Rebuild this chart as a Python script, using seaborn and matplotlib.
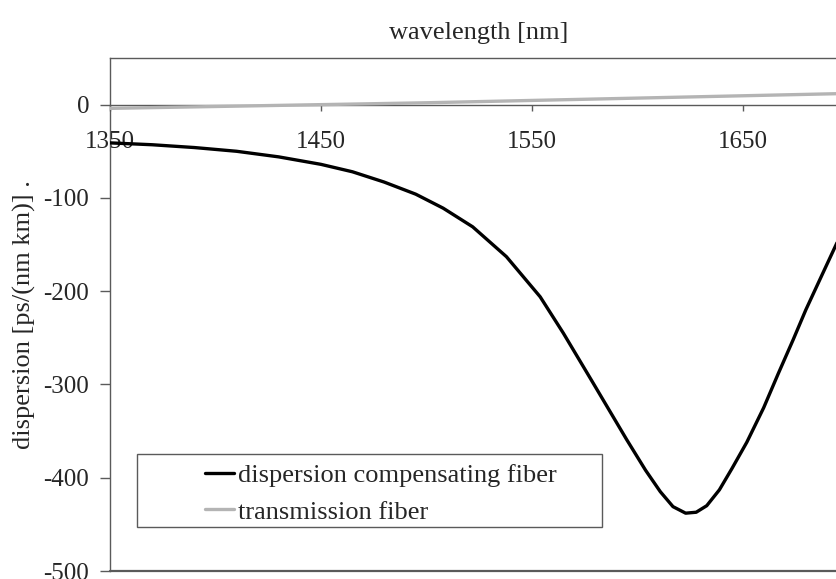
import numpy as np
import pandas as pd
import matplotlib
matplotlib.use("Agg")
import matplotlib.pyplot as plt
from matplotlib.patches import Rectangle
import seaborn as sns

# values
dcf_wavelength = [1350, 1370, 1390, 1410, 1430, 1450, 1465, 1480, 1495, 1508,
                  1522, 1538, 1554, 1565, 1579, 1595, 1604, 1611, 1617, 1623,
                  1628, 1633, 1639, 1645, 1652, 1660, 1667, 1674, 1680, 1688,
                  1695, 1700]
dcf_dispersion = [-41, -43, -46, -50, -56, -64, -72, -83, -96, -111,
                  -131, -163, -206, -245, -298, -359, -392, -415, -431, -438,
                  -437, -430, -413, -390, -362, -325, -288, -252, -220, -181,
                  -147, -124]

tf_wavelength = [1350, 1400, 1450, 1500, 1550, 1600, 1650, 1700]
tf_dispersion = [-4, -2, 0, 2, 4.5, 7, 9.5, 12]

series_names = ["dispersion compensating fiber", "transmission fiber"]
series_colors = ["#000000", "#b4b4b4"]
x_ticks = [1350, 1450, 1550, 1650]
y_ticks = [0, -100, -200, -300, -400, -500]
x_range = (1350, 1700)
y_range = (-500, 50)

df = pd.concat([
    pd.DataFrame({"wavelength": dcf_wavelength, "dispersion": dcf_dispersion,
                  "fiber": series_names[0]}),
    pd.DataFrame({"wavelength": tf_wavelength, "dispersion": tf_dispersion,
                  "fiber": series_names[1]}),
])

sns.set_theme(style="white")
plt.rcParams["font.family"] = ["Liberation Serif", "DejaVu Serif"]
plt.rcParams["axes.unicode_minus"] = False

fig = plt.figure(figsize=(8.37, 5.79), dpi=100)
ax = fig.add_axes([110 / 837, 1 - 571 / 579, 738 / 837, 513 / 579])

sns.lineplot(data=df, x="wavelength", y="dispersion", hue="fiber",
             hue_order=series_names, palette=series_colors, sort=False,
             linewidth=2.4, ax=ax, legend=False)
for ln, z in zip(ax.lines, [4, 3]):
    ln.set_zorder(z)
    ln.set_solid_joinstyle("round")
    ln.set_solid_capstyle("round")

ax.set_xlim(*x_range)
ax.set_ylim(*y_range)
ax.set_xticks(x_ticks)
ax.set_yticks(y_ticks)

frame_col = "#5a5a5a"
for s in ax.spines.values():
    s.set_color(frame_col)
    s.set_linewidth(1.0)
ax.spines["bottom"].set_position(("data", 0))
ax.axhline(y_range[0], color=frame_col, lw=1.6, clip_on=False, zorder=5)

ax.tick_params(axis="x", direction="out", length=4, width=1, color=frame_col,
               pad=15, labelsize=18, bottom=True)
ax.tick_params(axis="y", direction="out", length=7, width=1, color=frame_col,
               pad=8, labelsize=18, left=True)

ax.xaxis.set_label_position("top")
ax.set_xlabel("wavelength [nm]", fontsize=19, labelpad=14)
ax.set_ylabel("dispersion [ps/(nm km)] .", fontsize=19)
ax.yaxis.set_label_coords(-0.100, 0.5)

# legend with a separate box
handles = ax.lines[:2]
leg = ax.legend(handles, series_names, loc="center left",
                bbox_to_anchor=(0.111, 0.151), frameon=False, borderpad=0,
                fontsize=19, handlelength=1.1, handletextpad=0.15,
                labelspacing=0.5)
ax.add_patch(Rectangle((27 / 738, 44 / 513), 465 / 738, 73 / 513,
                       transform=ax.transAxes, fill=False,
                       edgecolor=frame_col, lw=1.0, zorder=6))

fig.savefig("out.png", dpi=100)
